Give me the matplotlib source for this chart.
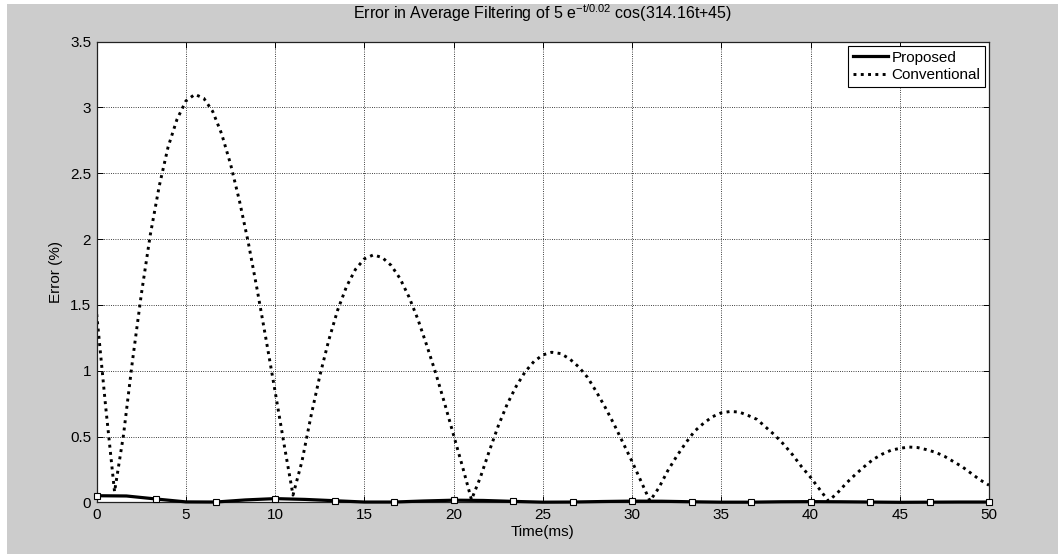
import matplotlib
matplotlib.use("Agg")
import matplotlib.pyplot as plt
from matplotlib.patches import Rectangle
from matplotlib.lines import Line2D

# ---- data ----
t_conv = [i * 0.5 for i in range(101)]  # ms
conv = [
    1.43, 0.73, 0.08, 0.51, 1.07, 1.58, 2.03, 2.40, 2.70, 2.91,
    3.05, 3.10, 3.07, 2.97, 2.80, 2.57, 2.29, 1.97, 1.61, 1.23,
    0.84, 0.44, 0.055, 0.31, 0.65, 0.96, 1.23, 1.46, 1.64, 1.77,
    1.85, 1.88, 1.86, 1.80, 1.70, 1.56, 1.39, 1.19, 0.98, 0.75,
    0.51, 0.27, 0.02, 0.19, 0.39, 0.58, 0.745, 0.88, 0.99, 1.07,
    1.12, 1.14, 1.13, 1.09, 1.03, 0.95, 0.84, 0.72, 0.59, 0.45,
    0.31, 0.16, 0.01, 0.11, 0.24, 0.35, 0.45, 0.54, 0.60, 0.65,
    0.68, 0.69, 0.686, 0.66, 0.63, 0.57, 0.51, 0.44, 0.36, 0.27,
    0.19, 0.10, 0.01, 0.07, 0.145, 0.21, 0.27, 0.325, 0.365, 0.395,
    0.41, 0.42, 0.416, 0.40, 0.38, 0.35, 0.31, 0.27, 0.22, 0.17,
    0.13,
]
t_prop = [i * 50 / 30 for i in range(31)]  # ms
prop = [
    0.050, 0.048, 0.025, 0.003, 0.002, 0.018, 0.028, 0.022, 0.012, 0.002,
    0.002, 0.010, 0.016, 0.014, 0.007, 0.001, 0.002, 0.006, 0.009, 0.008,
    0.004, 0.001, 0.001, 0.004, 0.005, 0.004, 0.002, 0.000, 0.001, 0.002,
    0.002,
]
x_ticks = [0, 5, 10, 15, 20, 25, 30, 35, 40, 45, 50]
y_ticks = [0, 0.5, 1, 1.5, 2, 2.5, 3, 3.5]
title = "Error in Average Filtering of 5 e$^{\\mathrm{-t/0.02}}$ cos(314.16t+45)"
labels = ["Proposed", "Conventional"]

plt.rcParams["font.family"] = ["Liberation Sans", "DejaVu Sans"]
plt.rcParams["mathtext.fontset"] = "custom"
plt.rcParams["mathtext.rm"] = "Liberation Sans"
plt.rcParams["mathtext.it"] = "Liberation Sans:italic"
FS = 11

W, H = 1058, 554
fig = plt.figure(figsize=(W / 100, H / 100), dpi=100, facecolor="white")
fig.patches.append(Rectangle((7 / W, 0), 1, (H - 4) / H, transform=fig.transFigure,
                             facecolor="#cccccc", edgecolor="none", zorder=-10))

L, R, T, B = 96.7, 989.0, 41.7, 502.3
ax = fig.add_axes([L / W, 1 - B / H, (R - L) / W, (B - T) / H])
ax.set_facecolor("white")

ax.plot(t_prop, prop, color="black", lw=2.3, marker="s", markevery=2,
        markersize=4.6, markerfacecolor="white", markeredgecolor="black",
        markeredgewidth=0.8, zorder=3, clip_on=False)
ax.plot(t_conv, conv, color="black", lw=2.1, linestyle=(0, (1, 1.5)), zorder=2)

ax.set_xlim(0, 50)
ax.set_ylim(0, 3.5)
ax.set_xticks(x_ticks)
ax.set_xticklabels([str(v) for v in x_ticks])
ax.set_yticks(y_ticks)
ax.set_yticklabels([("%g" % v) for v in y_ticks])
ax.tick_params(direction="in", length=4, width=0.7, top=True, right=True,
               pad=4, labelsize=FS, colors="black")
ax.grid(True, color="black", linestyle=(0, (1, 1.7)), linewidth=0.6)
for s in ax.spines.values():
    s.set_color("#222222")
    s.set_linewidth(0.9)

ax.set_title(title, fontsize=11.5, pad=16)
ax.set_xlabel("Time(ms)", fontsize=FS)
ax.set_ylabel("Error (%)", fontsize=FS)
ax.xaxis.set_label_coords(0.5, -0.05)
ax.yaxis.set_label_coords(-0.038, 0.5)

handles = [Line2D([], [], color="black", lw=2.3),
           Line2D([], [], color="black", lw=2.1, linestyle=(0, (1, 1.5)))]
leg = ax.legend(handles, labels, loc="upper right", fancybox=False, framealpha=1,
                edgecolor="black", borderaxespad=0.28, borderpad=0.3,
                handlelength=2.3, handletextpad=0.2, labelspacing=0.25,
                fontsize=FS)
leg.get_frame().set_linewidth(0.8)

fig.savefig("out.png", dpi=100, facecolor=fig.get_facecolor())
